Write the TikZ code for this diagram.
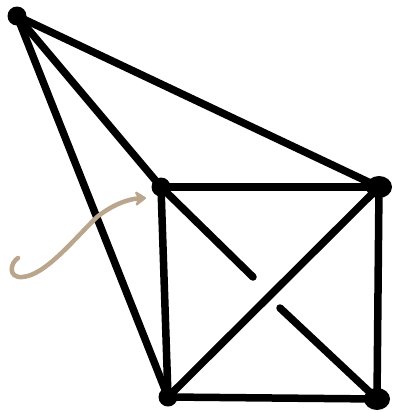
\documentclass[tikz,border=0pt]{standalone}
\usetikzlibrary{arrows.meta,shapes.geometric}
\definecolor{tan}{RGB}{185,166,140}
\begin{document}
\begin{tikzpicture}[x=1pt,y=-1pt,
  vtx/.style={circle,fill=black,inner sep=0pt,minimum size=19pt},
  vtxo/.style={ellipse,fill=black,inner sep=0pt,minimum width=26pt,minimum height=22pt},
  edge/.style={line width=7.5pt,line cap=round,line join=round},
  pointer/.style={draw=tan,line width=4.5pt,line cap=round,-{Stealth[round,length=13pt,width=18pt]}}]
\useasboundingbox (0,0) rectangle (393,413);
\node[vtx] (A) at (17,16) {};
\node[vtx] (B) at (161,187) {};
\node[vtxo] (C) at (379,187) {};
\node[vtx] (D) at (168,397) {};
\node[vtxo] (E) at (377,399) {};
\coordinate (b1) at (253,277);
\coordinate (b2) at (280,308);
\draw[edge] (A.center) -- (C.center);
\draw[edge] (A.center) -- (B.center);
\draw[edge] (A.center) -- (D.center);
\draw[edge] (B.center) -- (C.center);
\draw[edge] (B.center) -- (D.center);
\draw[edge] (C.center) -- (E.center);
\draw[edge] (D.center) -- (E.center);
\draw[edge] (C.center) -- (D.center);
\draw[edge] (B.center) -- (b1);
\draw[edge] (b2) -- (E.center);
\coordinate (p0) at (18,258);
\coordinate (p1) at (22,277);
\coordinate (p2) at (97,217);
\coordinate (p3) at (146,198);
\draw[pointer] (p0) .. controls (10,263) and (8,278) .. (p1)
  .. controls (45,276) and (75,238) .. (p2)
  .. controls (112,205) and (128,199) .. (p3);
\end{tikzpicture}
\end{document}
